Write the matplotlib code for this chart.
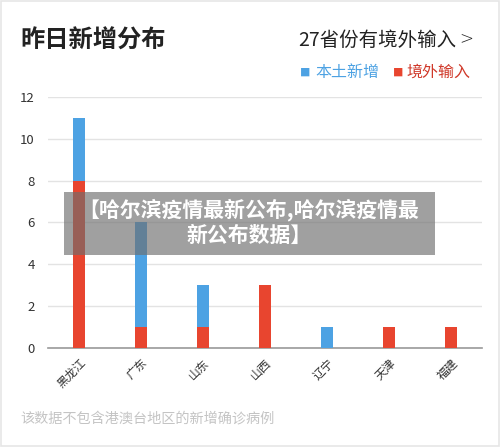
import matplotlib
matplotlib.use("Agg")
import matplotlib.pyplot as plt
from matplotlib.patches import Rectangle

plt.rcParams['font.family'] = ['Noto Sans CJK SC', 'DejaVu Sans']

provinces = ['黑龙江', '广东', '山东', '山西', '辽宁', '天津', '福建']
local_new = [3, 5, 2, 0, 1, 0, 0]
imported = [8, 1, 1, 3, 0, 1, 1]
yticks = [0, 2, 4, 6, 8, 10, 12]

blue = '#4da2e3'
red = '#e8452f'

fig = plt.figure(figsize=(5.0, 4.47), dpi=100)
ax = fig.add_axes([0.096, 0.2215, 0.868, 0.5615])

x = list(range(len(provinces)))
ax.bar(x, imported, width=0.19, color=red, zorder=3)
ax.bar(x, local_new, width=0.19, bottom=imported, color=blue, zorder=3)

ax.set_xlim(-0.5, len(provinces) - 0.5)
ax.set_ylim(0, 12)
ax.set_yticks(yticks)
ax.set_yticklabels([str(v) for v in yticks], fontsize=9.5, color='#333333')
ax.set_xticks(x)
ax.set_xticklabels(provinces, rotation=45, ha='right', rotation_mode='anchor',
                   fontsize=8.5, color='#333333')
ax.tick_params(axis='both', length=0)
ax.tick_params(axis='y', pad=9.5)
ax.tick_params(axis='x', pad=6)
ax.grid(axis='y', color='#e3e3e3', linewidth=1, zorder=0)
for s in ['top', 'right', 'left']:
    ax.spines[s].set_visible(False)
ax.spines['bottom'].set_color('#999999')
ax.spines['bottom'].set_linewidth(1.2)

fig.text(0.04, 0.91, '昨日新增分布', fontsize=17.5, fontweight='bold', color='#222222',
         va='center', ha='left')
fig.text(0.913, 0.91, '27省份有境外输入', fontsize=14, color='#222222',
         va='center', ha='right')
fig.text(0.946, 0.915, '>', fontsize=12, color='#222222', fontweight='light',
         va='center', ha='right', family='DejaVu Sans')
fig.text(0.60, 0.838, '■', fontsize=7.5, color=blue, va='center', ha='left')
fig.text(0.630, 0.838, '本土新增', fontsize=11.5, color=blue, va='center', ha='left')
fig.text(0.785, 0.838, '■', fontsize=7.5, color=red, va='center', ha='left')
fig.text(0.813, 0.838, '境外输入', fontsize=11.5, color='#d0392a', va='center', ha='left')

fig.text(0.04, 0.064, '该数据不包含港澳台地区的新增确诊病例', fontsize=10.2,
         color='#c4c4c4', va='center', ha='left')

# frame border
fig.patches.append(Rectangle((0.002, 0.002), 0.996, 0.996, transform=fig.transFigure,
                             fill=False, edgecolor='#e6e6e6', linewidth=1.2))

# overlay banner
fig.patches.append(Rectangle((0.128, 1 - 255 / 447), (435 - 64) / 500, (255 - 192) / 447,
                             transform=fig.transFigure, facecolor='#6e6e6e',
                             alpha=0.65, edgecolor='none', zorder=10))
fig.text(0.498, 1 - 210 / 447, '【哈尔滨疫情最新公布,哈尔滨疫情最', fontsize=15,
         fontweight='bold', color='white', va='center', ha='center', zorder=11)
fig.text(0.498, 1 - 235 / 447, '新公布数据】', fontsize=15,
         fontweight='bold', color='white', va='center', ha='center', zorder=11)

fig.savefig('out.png', dpi=100)
